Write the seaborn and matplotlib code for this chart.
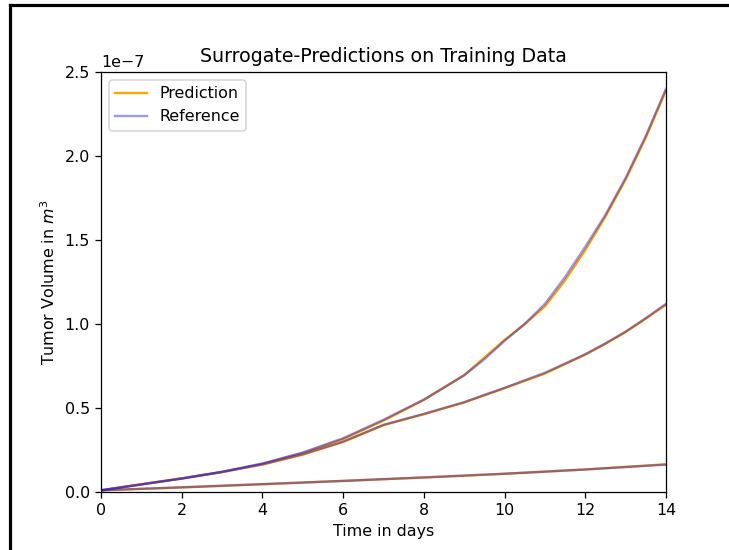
import numpy as np
import pandas as pd
import matplotlib
matplotlib.use("Agg")
import matplotlib.pyplot as plt
from matplotlib.lines import Line2D
import seaborn as sns

# time points (days)
t_a = [0, 1, 2, 3, 4, 5, 6, 7, 8, 9, 9.5, 10, 10.5, 11, 11.5, 12, 12.5, 13, 13.5, 14]
t_b = [0, 1, 2, 3, 4, 5, 6, 6.6, 7, 8, 9, 10, 11, 12, 12.5, 13, 13.5, 14]
t_c = [0, 2, 4, 6, 8, 10, 12, 14]

# reference volumes (units of 1e-7 m^3)
ref_a = [0.01, 0.045, 0.08, 0.12, 0.17, 0.235, 0.32, 0.43, 0.55, 0.695, 0.79, 0.90, 1.00,
         1.12, 1.28, 1.46, 1.65, 1.87, 2.12, 2.40]
ref_b = [0.01, 0.045, 0.08, 0.12, 0.165, 0.225, 0.30, 0.36, 0.40, 0.465, 0.535, 0.62, 0.71,
         0.82, 0.885, 0.955, 1.035, 1.12]
ref_c = [0.01, 0.028, 0.047, 0.066, 0.087, 0.109, 0.134, 0.163]

# surrogate predictions (units of 1e-7 m^3)
pred_a = [0.01, 0.046, 0.081, 0.118, 0.168, 0.232, 0.315, 0.425, 0.548, 0.695, 0.80, 0.905,
          1.00, 1.105, 1.26, 1.44, 1.64, 1.86, 2.11, 2.39]
pred_b = [0.01, 0.046, 0.081, 0.119, 0.163, 0.222, 0.298, 0.358, 0.398, 0.463, 0.533, 0.618,
          0.705, 0.818, 0.882, 0.952, 1.032, 1.115]
pred_c = [0.01, 0.027, 0.046, 0.066, 0.086, 0.108, 0.134, 0.165]

DPI = 114
fig = plt.figure(figsize=(729 / DPI, 550 / DPI), dpi=DPI)
ax = fig.add_axes([101/729, 1 - 492/550, (666-101)/729, (492-72)/550])

curves = [(t_a, pred_a, ref_a), (t_b, pred_b, ref_b), (t_c, pred_c, ref_c)]
for i, (t, p, r) in enumerate(curves):
    sns.lineplot(x=t, y=np.array(p) * 1e-7, color="orange", linewidth=1.5,
                 label="Prediction" if i == 0 else None, ax=ax, legend=False)
for i, (t, p, r) in enumerate(curves):
    sns.lineplot(x=t, y=np.array(r) * 1e-7, color="blue", alpha=0.4, linewidth=1.5,
                 label="Reference" if i == 0 else None, ax=ax, legend=False)

ax.set_xlim(0, 14)
ax.set_ylim(0, 2.5e-7)
ax.set_xticks([0, 2, 4, 6, 8, 10, 12, 14])
ax.set_xlabel("Time in days")
ax.set_ylabel("Tumor Volume in $m^3$")
ax.set_title("Surrogate-Predictions on Training Data", fontsize=12)
ax.legend(loc="upper left")

# outer black frame (left and top edges visible)
fig.add_artist(Line2D([10/729, 10/729], [0, 1 - 5/550], color="black", linewidth=2,
                      transform=fig.transFigure))
fig.add_artist(Line2D([10/729, 1], [1 - 5/550, 1 - 5/550], color="black", linewidth=2,
                      transform=fig.transFigure))

fig.savefig("out.png", dpi=DPI)
